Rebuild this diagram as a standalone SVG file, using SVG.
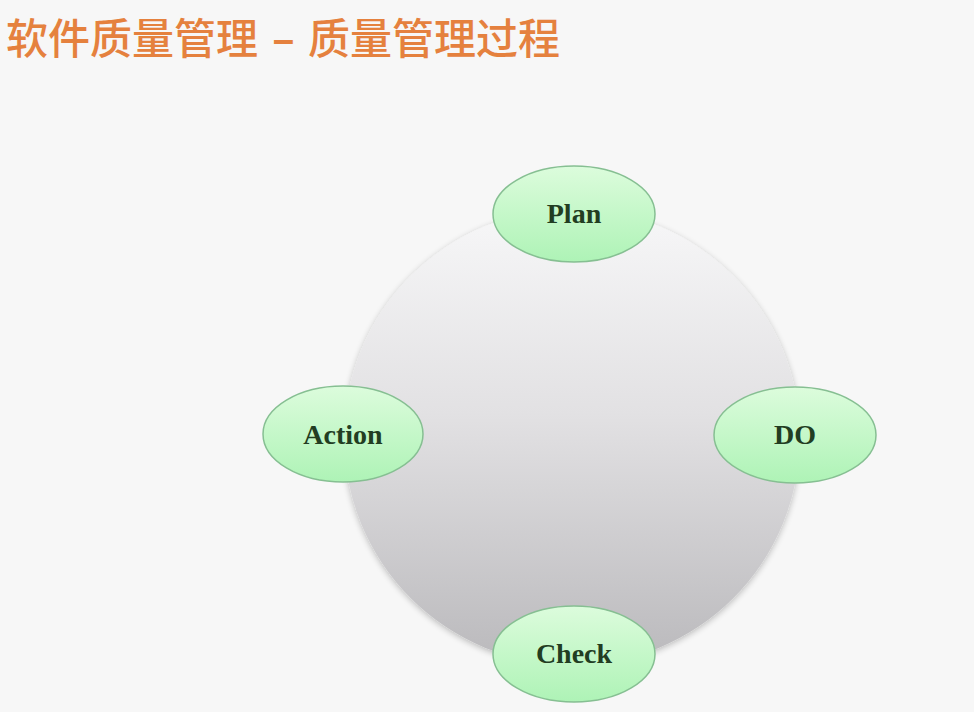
<svg xmlns="http://www.w3.org/2000/svg" width="974" height="712" viewBox="0 0 974 712">
<defs>
<linearGradient id="disc" x1="0" y1="0" x2="0" y2="1">
<stop offset="0" stop-color="#f7f7f8"/>
<stop offset="0.45" stop-color="#e2e1e3"/>
<stop offset="1" stop-color="#bab9bc"/>
</linearGradient>
<linearGradient id="node" x1="0" y1="0" x2="0" y2="1">
<stop offset="0" stop-color="#dcfcdc"/>
<stop offset="1" stop-color="#aef3b6"/>
</linearGradient>
<filter id="soft" x="-20%" y="-20%" width="140%" height="140%">
<feGaussianBlur in="SourceAlpha" stdDeviation="3"/>
<feOffset dx="0" dy="2"/>
<feComponentTransfer><feFuncA type="linear" slope="0.25"/></feComponentTransfer>
<feMerge><feMergeNode/><feMergeNode in="SourceGraphic"/></feMerge>
</filter>
</defs>
<style>
.n ellipse{fill:url(#node);stroke:#86bf92;stroke-width:1.5}
.n text{font-family:"Liberation Serif","Times New Roman",serif;font-weight:bold;font-size:28px;fill:#223d22;text-anchor:middle}
</style>
<rect width="974" height="712" fill="#f7f7f7"/>
<text y="54" font-family="'Noto Sans CJK SC',sans-serif" font-size="42" font-weight="500" fill="#e5813e"><tspan x="6">软件质量管理</tspan><tspan x="272" font-weight="bold">–</tspan><tspan x="308">质量管理过程</tspan></text>
<g id="cycle">
<circle cx="572" cy="437" r="228" fill="url(#disc)" filter="url(#soft)"/>
</g>
<g id="connectors"></g>
<g id="plan" class="n"><ellipse cx="574" cy="214" rx="81" ry="48"/><text x="574" y="223">Plan</text></g>
<g id="do" class="n"><ellipse cx="795" cy="435" rx="81" ry="48"/><text x="795" y="444">DO</text></g>
<g id="check" class="n"><ellipse cx="574" cy="654" rx="81" ry="48"/><text x="574" y="663">Check</text></g>
<g id="action" class="n"><ellipse cx="343" cy="434" rx="80" ry="48"/><text x="343" y="444">Action</text></g>
</svg>
